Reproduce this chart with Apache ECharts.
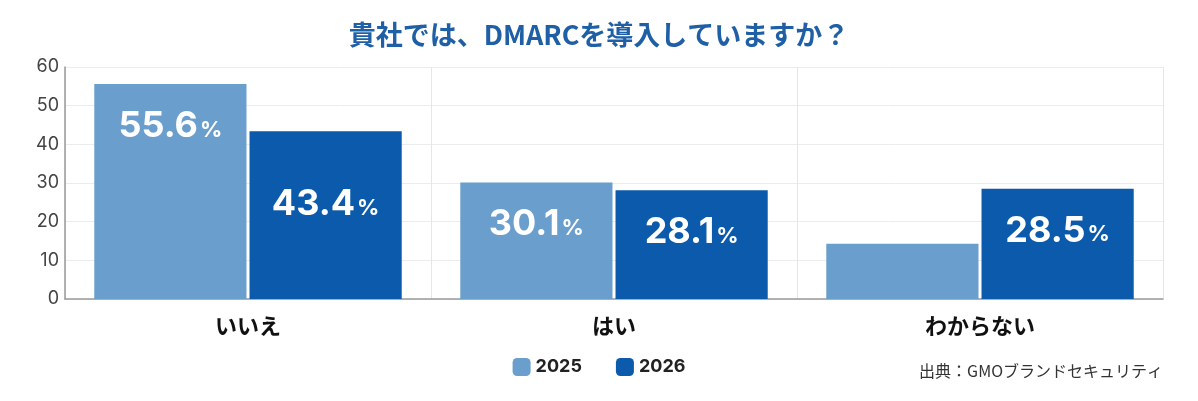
<!DOCTYPE html>
<html><head><meta charset="utf-8">
<script src="https://cdn.jsdelivr.net/npm/echarts@6/dist/echarts.min.js"></script>
<style>html,body{margin:0;background:#fff}#c{width:1198px;height:401px}</style>
</head><body><div id="c"></div>
<script>
const categories = ['いいえ', 'はい', 'わからない'];
const values2025 = [55.6, 30.1, 14.3];
const values2026 = [43.4, 28.1, 28.5];
const showLabel2025 = [true, true, false];
const yTicks = [0, 10, 20, 30, 40, 50, 60];

const chart = echarts.init(document.getElementById('c'));

const labelStyle = {
  show: true,
  position: 'insideTop',
  distance: 24,
  formatter: p => `{v|${p.value}}{p|%}`,
  rich: {
    v: { color: '#fff', fontSize: 36, fontWeight: 'bold', fontFamily: 'Inter, sans-serif' },
    p: { color: '#fff', fontSize: 22, fontWeight: 'bold', fontFamily: 'Inter, sans-serif', padding: [8, 0, 0, 2] }
  }
};

chart.setOption({
  animation: false,
  title: {
    text: '貴社では、DMARCを導入していますか？',
    left: 'center', top: 16,
    textStyle: { color: '#1f5fa6', fontSize: 27, fontWeight: 'bold', fontFamily: '"Noto Sans CJK JP", sans-serif' }
  },
  grid: { left: 65, right: 35, top: 67, bottom: 102 },
  legend: {
    bottom: 20, left: 'center', itemWidth: 18, itemHeight: 18, itemGap: 34,
    textStyle: { fontSize: 18, fontWeight: 'bold', color: '#222', fontFamily: 'Inter, sans-serif' }
  },
  graphic: [{
    type: 'text', right: 35, bottom: 22,
    style: { text: '出典：GMOブランドセキュリティ', fontSize: 16, fill: '#333', fontFamily: '"Noto Sans CJK JP", sans-serif' }
  }],
  xAxis: {
    type: 'category', data: categories,
    axisTick: { show: false },
    axisLine: { lineStyle: { color: '#999', width: 1.5 } },
    splitLine: { show: true, lineStyle: { color: '#e6e6e6' } },
    axisLabel: { fontSize: 22, fontWeight: 'bold', color: '#111', margin: 16, fontFamily: '"Noto Sans CJK JP", sans-serif' }
  },
  yAxis: {
    type: 'value', min: yTicks[0], max: yTicks[yTicks.length - 1], interval: 10,
    axisLine: { show: true, lineStyle: { color: '#999', width: 1.5 } },
    splitLine: { lineStyle: { color: '#ececec' } },
    axisLabel: { fontSize: 18, color: '#444', margin: 6, fontFamily: 'Inter, sans-serif' }
  },
  series: [
    {
      name: '2025', type: 'bar', barGap: '2%', barCategoryGap: '16%',
      itemStyle: { color: '#6a9ecd' },
      data: values2025.map((v, i) => ({ value: v, label: { show: showLabel2025[i] } })),
      label: labelStyle
    },
    {
      name: '2026', type: 'bar',
      itemStyle: { color: '#0b5aab' },
      data: values2026.map((v, i) => i === 0 ? { value: v, label: { distance: 55 } } : v),
      label: labelStyle
    }
  ]
});
</script></body></html>
